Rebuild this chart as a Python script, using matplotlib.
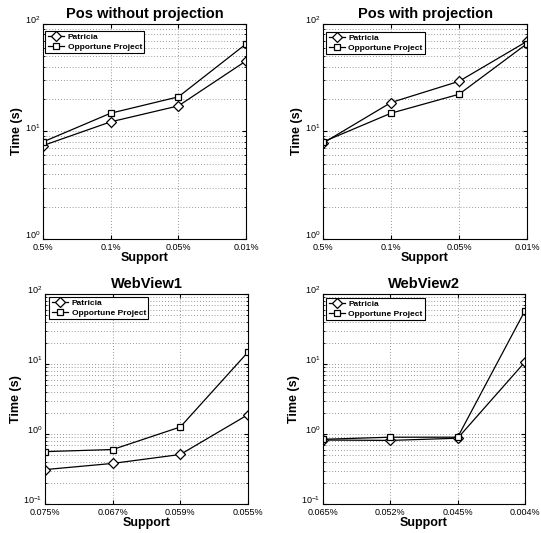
import matplotlib
matplotlib.use("Agg")
import matplotlib.pyplot as plt
from matplotlib.ticker import LogLocator, NullFormatter

plt.rcParams['font.family'] = ['Liberation Sans', 'DejaVu Sans']
plt.rcParams['mathtext.fontset'] = 'custom'
plt.rcParams['mathtext.rm'] = 'Liberation Sans'

titles = ["Pos without projection", "Pos with projection", "WebView1", "WebView2"]
xlabels_pos = ["0.5%", "0.1%", "0.05%", "0.01%"]
xlabels_wv1 = ["0.075%", "0.067%", "0.059%", "0.055%"]
xlabels_wv2 = ["0.065%", "0.052%", "0.045%", "0.004%"]

patricia_pos_noproj = [7.4, 12.3, 17.3, 45.3]
opportune_pos_noproj = [8.0, 14.8, 21.0, 65.2]
patricia_pos_proj = [7.8, 18.6, 29.3, 69.0]
opportune_pos_proj = [8.0, 14.8, 22.2, 65.6]
patricia_wv1 = [0.31, 0.38, 0.51, 1.89]
opportune_wv1 = [0.56, 0.60, 1.26, 14.8]
patricia_wv2 = [0.82, 0.81, 0.87, 10.7]
opportune_wv2 = [0.84, 0.90, 0.90, 57.8]

panels = [
    (titles[0], xlabels_pos, patricia_pos_noproj, opportune_pos_noproj, (1, 100)),
    (titles[1], xlabels_pos, patricia_pos_proj, opportune_pos_proj, (1, 100)),
    (titles[2], xlabels_wv1, patricia_wv1, opportune_wv1, (0.1, 100)),
    (titles[3], xlabels_wv2, patricia_wv2, opportune_wv2, (0.1, 100)),
]

W, H = 541, 533
fig = plt.figure(figsize=(W / 100, H / 100), dpi=100)

# axes boxes in pixels: (left, top, right, bottom)
boxes = [(43, 24, 246, 239), (323, 24, 527, 239), (45, 294, 248, 504), (323, 294, 525, 504)]
# legend offsets from axes top-left corner, pixels
leg_off = [(2, 7), (3, 8), (4, 3), (3, 4)]

for (title, xl, pat, opp, ylim), (l, t, r, b), (dx, dy) in zip(panels, boxes, leg_off):
    axw, axh = r - l, b - t
    ax = fig.add_axes([l / W, 1 - b / H, axw / W, axh / H])
    x = list(range(len(xl)))
    ax.plot(x, pat, color='black', lw=0.9, marker='D', ms=5, mfc='white', mec='black', mew=0.9,
            label='Patricia')
    ax.plot(x, opp, color='black', lw=0.9, marker='s', ms=4.5, mfc='white', mec='black', mew=0.9,
            label='Opportune Project')
    ax.set_yscale('log')
    ax.set_ylim(*ylim)
    ax.set_xlim(0, len(xl) - 1)
    ax.set_xticks(x)
    ax.set_xticklabels(xl, fontsize=6.5)
    ax.yaxis.set_major_locator(LogLocator(base=10, numticks=10))
    ax.yaxis.set_minor_locator(LogLocator(base=10, subs=range(2, 10), numticks=20))
    ax.yaxis.set_minor_formatter(NullFormatter())
    ax.tick_params(axis='both', which='both', direction='in', labelsize=6.5, top=True, right=True)
    ax.tick_params(axis='x', pad=3)
    ax.tick_params(axis='y', pad=2)
    ax.tick_params(which='major', length=3)
    ax.tick_params(which='minor', length=1.5)
    for lab in ax.get_yticklabels():
        lab.set_verticalalignment('baseline')
    ax.grid(True, which='major', axis='both', color='#777777', ls=(0, (1, 2.5)), lw=0.6)
    ax.grid(True, which='minor', axis='y', color='#777777', ls=(0, (1, 2.5)), lw=0.6)
    for sp in ax.spines.values():
        sp.set_linewidth(0.8)
    ax.set_title(title, fontsize=10.5, fontweight='bold', pad=4)
    ax.set_xlabel('Support', fontsize=9, fontweight='bold', labelpad=0)
    ax.set_ylabel('Time (s)', fontsize=9, fontweight='bold', labelpad=1)
    leg = ax.legend(loc='upper left', bbox_to_anchor=(dx / axw, 1 - dy / axh),
                    prop={'weight': 'bold', 'size': 6},
                    fancybox=False, framealpha=1, edgecolor='black', borderpad=0.3,
                    handlelength=2.0, handletextpad=0.4, labelspacing=0.2, borderaxespad=0.0)
    leg.get_frame().set_linewidth(0.8)

fig.savefig('out.png', dpi=100)
